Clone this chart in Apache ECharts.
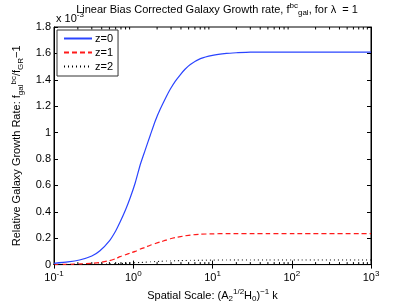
<!DOCTYPE html>
<html><head><meta charset="utf-8">
<script src="https://cdn.jsdelivr.net/npm/echarts@6/dist/echarts.min.js"></script>
<style>html,body{margin:0;padding:0;background:#fff}#c{width:409px;height:308px}</style>
</head><body><div id="c"></div>
<script>
// Data (y in units of 1e-3)
const k  = [0.1, 0.15, 0.21, 0.3, 0.38, 0.5, 0.6, 0.68, 0.8, 0.92, 1.06, 1.23, 1.4, 1.64, 1.9, 2.2, 2.6, 2.94, 3.4, 3.94, 4.5, 5.25, 7.04, 10, 15, 20, 30, 50, 100, 1000];
const z0 = [0.01, 0.02, 0.035, 0.065, 0.105, 0.18, 0.255, 0.32, 0.415, 0.51, 0.62, 0.76, 0.86, 0.98, 1.09, 1.18, 1.27, 1.33, 1.39, 1.44, 1.48, 1.516, 1.56, 1.585, 1.6, 1.605, 1.61, 1.61, 1.61, 1.61];
const z1 = [0.0, 0.002, 0.005, 0.01, 0.016, 0.03, 0.045, 0.06, 0.075, 0.088, 0.1, 0.118, 0.13, 0.147, 0.16, 0.172, 0.185, 0.196, 0.205, 0.212, 0.218, 0.224, 0.23, 0.233, 0.235, 0.235, 0.235, 0.235, 0.235, 0.235];
const z2 = [0.0, 0.0, 0.001, 0.002, 0.003, 0.005, 0.007, 0.008, 0.01, 0.012, 0.014, 0.016, 0.018, 0.021, 0.023, 0.025, 0.027, 0.028, 0.029, 0.03, 0.031, 0.032, 0.033, 0.034, 0.035, 0.035, 0.035, 0.035, 0.035, 0.035];
const seriesNames = ['z=0', 'z=1', 'z=2'];
const yTicks = [0, 0.2, 0.4, 0.6, 0.8, 1, 1.2, 1.4, 1.6, 1.8];
const minorK = [];
for (let e = -1; e < 3; e++) for (let m = 2; m <= 9; m++) minorK.push(m * Math.pow(10, e));

const FONT = 'Liberation Sans';
const pair = (a) => a.map((v, i) => [k[i], v]);
const chart = echarts.init(document.getElementById('c'));
const axisLine = {show: true, lineStyle: {color: '#000', width: 1}};
const supSub = {
  sp: {fontSize: 8, fontFamily: FONT, color: '#000', padding: [0, 0, 7, 0]},
  sb: {fontSize: 8, fontFamily: FONT, color: '#000', padding: [7, 0, 0, 0]}
};
chart.setOption({
  animation: false,
  textStyle: {fontFamily: FONT},
  title: {
    text: 'Linear Bias Corrected Galaxy Growth rate, f{sp|bc}{sb|gal}, for λ  = 1',
    left: 212, top: -3, textAlign: 'center',
    textStyle: {fontSize: 11, fontWeight: 'normal', color: '#000', fontFamily: FONT, rich: supSub}
  },
  graphic: [{
    type: 'text', left: 56, top: 11, z: 100,
    style: {text: 'x 10{sp|-3}', fontSize: 11, fontFamily: FONT, fill: '#000', rich: supSub}
  }],
  grid: {left: 54, right: 38, top: 27, bottom: 40, show: true, borderColor: '#000', borderWidth: 1},
  legend: {
    data: seriesNames, orient: 'vertical', left: 57, top: 30,
    itemWidth: 28, itemHeight: 10, itemGap: 3,
    padding: [3, 5, 4, 6],
    borderColor: '#333', borderWidth: 1, backgroundColor: '#fff',
    align: 'left',
    itemStyle: {opacity: 0},
    textStyle: {fontSize: 11, color: '#000', fontFamily: FONT, padding: [0, 0, 0, -2]}
  },
  xAxis: [{
    type: 'log', min: 0.1, max: 1000, logBase: 10,
    name: 'Spatial Scale: (A{sb|2}{sp|1/2}H{sb|0}){sp|−1} k',
    nameLocation: 'middle', nameGap: 21,
    nameTextStyle: {fontSize: 11, color: '#000', fontFamily: FONT, rich: supSub},
    axisLine: axisLine,
    axisTick: {show: true, inside: true, length: 4, lineStyle: {color: '#000'}},
    splitLine: {show: false},
    axisLabel: {
      color: '#000', margin: 5,
      formatter: (v) => '{b|10}{s|' + Math.round(Math.log10(v)) + '}',
      rich: {b: {fontSize: 11, fontFamily: FONT, color: '#000'},
             s: {fontSize: 8, fontFamily: FONT, color: '#000', padding: [0, 0, 8, 0]}}
    }
  }, {
    type: 'log', min: 0.1, max: 1000, position: 'top',
    axisLine: axisLine,
    axisTick: {show: true, inside: true, length: 4, lineStyle: {color: '#000'}},
    axisLabel: {show: false}, splitLine: {show: false}
  }],
  yAxis: [{
    type: 'value', min: 0, max: 1.8, interval: 0.2,
    name: 'Relative Galaxy Growth Rate: f{sb|gal}{sp|bc}/f{sb|GR}−1',
    nameLocation: 'middle', nameGap: 24, nameRotate: 90,
    nameTextStyle: {fontSize: 11, color: '#000', fontFamily: FONT, rich: supSub},
    axisLine: axisLine,
    axisTick: {show: true, inside: true, length: 4, lineStyle: {color: '#000'}},
    splitLine: {show: false},
    axisLabel: {color: '#000', fontSize: 11, fontFamily: FONT, margin: 3,
      formatter: (v) => yTicks.includes(Math.round(v * 10) / 10) ? String(Math.round(v * 10) / 10) : ''}
  }, {
    type: 'value', min: 0, max: 1.8, interval: 0.2, position: 'right',
    axisLine: axisLine,
    axisTick: {show: true, inside: true, length: 4, lineStyle: {color: '#000'}},
    axisLabel: {show: false}, splitLine: {show: false}
  }],
  series: [
    {name: seriesNames[0], type: 'line', data: pair(z0), symbol: 'none', smooth: 0.2,
     lineStyle: {color: '#2a44ff', width: 1.2}, itemStyle: {color: '#2a44ff'}},
    {name: seriesNames[1], type: 'line', data: pair(z1), symbol: 'none', smooth: 0.2,
     lineStyle: {color: '#ff1a1a', width: 1.2, type: [5, 3]}, itemStyle: {color: '#ff1a1a'}},
    {name: seriesNames[2], type: 'line', data: pair(z2), symbol: 'none', smooth: 0.2,
     lineStyle: {color: '#000', width: 1, type: [1, 3]}, itemStyle: {color: '#000'}},
    {name: 'minor', type: 'custom', data: minorK.map(v => [v]), silent: true,
     renderItem: (params, api) => {
       const b = api.coord([api.value(0), 0]);
       const t = api.coord([api.value(0), 1.8]);
       return {type: 'group', children: [
         {type: 'line', shape: {x1: b[0], y1: b[1], x2: b[0], y2: b[1] - 2.5}, style: {stroke: '#000', lineWidth: 1}},
         {type: 'line', shape: {x1: t[0], y1: t[1], x2: t[0], y2: t[1] + 2.5}, style: {stroke: '#000', lineWidth: 1}}
       ]};
     }}
  ]
});
</script></body></html>
